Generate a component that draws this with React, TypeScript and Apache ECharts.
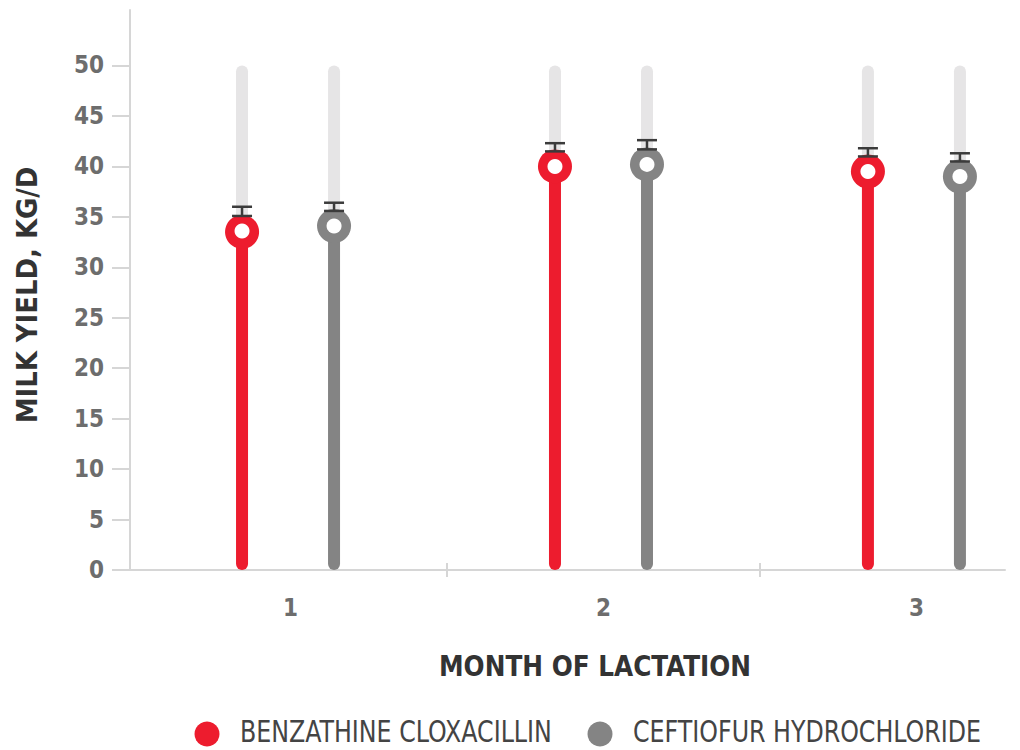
import React, { useEffect, useRef } from "react";
import * as echarts from "echarts";

const categories = ["1", "2", "3"];
const categoryPositions = [1, 2, 3];
const seriesNames = ["BENZATHINE CLOXACILLIN", "CEFTIOFUR HYDROCHLORIDE"];
const benzMean = [33.6, 40.0, 39.5];
const benzUpper = [36.0, 42.3, 41.8];
const ceftMean = [34.1, 40.2, 39.0];
const ceftUpper = [36.4, 42.6, 41.3];
const yTickValues = [0, 5, 10, 15, 20, 25, 30, 35, 40, 45, 50];
const xBoundaryTicks = [1.5, 2.5];
const trackTop = 50;

const FONT = "'Liberation Sans Narrow', 'DejaVu Sans Condensed', 'Roboto', sans-serif";
const RED = "#ed1c2e";
const GRAY = "#848484";
const AXIS = "#d6d6d6";
const X_MIN = 0.487;
const X_MAX = 3.283;

export default function App() {
  const ref = useRef<HTMLDivElement>(null);
  useEffect(() => {
    document.body.style.margin = "0";
    const chart = echarts.init(ref.current!, null, { renderer: "svg" });
    const offsets = [-0.155, 0.139];
    const colors = [RED, GRAY];
    const build = (means: number[], uppers: number[], off: number) =>
      categoryPositions.map((c, i) => [c + off, means[i], uppers[i]]);

    const renderItem = (params: any, api: any) => {
      const x = api.value(0);
      const v = api.value(1);
      const up = api.value(2);
      const p0 = api.coord([x, 0]);
      const pv = api.coord([x, v]);
      const pt = api.coord([x, trackTop]);
      const pu = api.coord([x, up]);
      const color = api.visual("color");
      const lowCap = pv[1] - 15;
      const ebColor = "#3b3b3b";
      return {
        type: "group",
        children: [
          { type: "line", shape: { x1: pv[0], y1: pt[1] + 6, x2: pv[0], y2: pv[1] }, style: { stroke: "#e6e5e6", lineWidth: 12, lineCap: "round" } },
          { type: "line", shape: { x1: pv[0], y1: p0[1] - 6, x2: pv[0], y2: pv[1] }, style: { stroke: color, lineWidth: 12, lineCap: "round" } },
          { type: "circle", shape: { cx: pv[0], cy: pv[1], r: 17 }, style: { fill: color } },
          { type: "circle", shape: { cx: pv[0], cy: pv[1], r: 7.5 }, style: { fill: "#ffffff" } },
          { type: "line", shape: { x1: pv[0], y1: pu[1], x2: pv[0], y2: lowCap }, style: { stroke: ebColor, lineWidth: 2.5 } },
          { type: "line", shape: { x1: pv[0] - 10, y1: pu[1], x2: pv[0] + 10, y2: pu[1] }, style: { stroke: ebColor, lineWidth: 2.5 } },
          { type: "line", shape: { x1: pv[0] - 10, y1: lowCap, x2: pv[0] + 10, y2: lowCap }, style: { stroke: ebColor, lineWidth: 2.5 } },
        ],
      };
    };

    const legendX = [207, 600];
    const legendGraphics: any[] = [];
    seriesNames.forEach((name, i) => {
      legendGraphics.push({
        type: "circle",
        shape: { cx: legendX[i], cy: 734, r: 12.5 },
        style: { fill: colors[i] },
      });
      legendGraphics.push({
        type: "text",
        x: legendX[i] + 33,
        y: 732,
        scaleX: 0.88,
        style: {
          text: name,
          fontFamily: FONT,
          fontSize: 30,
          fill: "#444444",
          textAlign: "left",
          textVerticalAlign: "middle",
        },
      });
    });

    chart.setOption({
      animation: false,
      grid: { left: 130, right: 15, top: 10, bottom: 180, containLabel: false },
      xAxis: [
        {
          type: "value",
          min: X_MIN,
          max: X_MAX,
          axisLine: { show: true, lineStyle: { color: AXIS, width: 2 } },
          axisTick: { show: true, length: 7, customValues: xBoundaryTicks, lineStyle: { color: AXIS, width: 2 } },
          axisLabel: {
            customValues: categoryPositions,
            formatter: (v: number) => categories[Math.round(v) - 1] ?? "",
            fontFamily: FONT,
            fontSize: 24,
            fontWeight: "bold",
            color: "#6d6d6d",
            margin: 26,
          },
          splitLine: { show: false },
        },
        {
          type: "value",
          min: X_MIN,
          max: X_MAX,
          position: "bottom",
          axisLine: { show: false },
          axisTick: { show: true, inside: true, length: 7, customValues: xBoundaryTicks, lineStyle: { color: AXIS, width: 2 } },
          axisLabel: { show: false },
          splitLine: { show: false },
        },
      ],
      yAxis: {
        type: "value",
        min: 0,
        max: 55.5,
        axisLine: { show: true, lineStyle: { color: AXIS, width: 2 } },
        axisTick: { show: true, length: 18, customValues: yTickValues, lineStyle: { color: AXIS, width: 2 } },
        axisLabel: {
          customValues: yTickValues,
          fontFamily: FONT,
          fontSize: 24,
          fontWeight: "bold",
          color: "#6d6d6d",
          margin: 26,
        },
        splitLine: { show: false },
      },
      graphic: [
        {
          type: "text",
          x: 28,
          y: 295,
          rotation: Math.PI / 2,
          scaleX: 1.03,
          style: {
            text: "MILK YIELD, KG/D",
            fontFamily: FONT,
            fontSize: 28,
            fontWeight: "bold",
            fill: "#333333",
            textAlign: "center",
            textVerticalAlign: "middle",
          },
        },
        {
          type: "text",
          x: 595,
          y: 666,
          scaleX: 0.95,
          style: {
            text: "MONTH OF LACTATION",
            fontFamily: FONT,
            fontSize: 29,
            fontWeight: "bold",
            fill: "#333333",
            textAlign: "center",
            textVerticalAlign: "middle",
          },
        },
        ...legendGraphics,
      ],
      series: [
        {
          name: seriesNames[0],
          type: "custom",
          itemStyle: { color: RED },
          renderItem,
          encode: { x: 0, y: 1 },
          data: build(benzMean, benzUpper, offsets[0]),
        },
        {
          name: seriesNames[1],
          type: "custom",
          itemStyle: { color: GRAY },
          renderItem,
          encode: { x: 0, y: 1 },
          data: build(ceftMean, ceftUpper, offsets[1]),
        },
      ],
    });
    return () => chart.dispose();
  }, []);
  return <div ref={ref} style={{ position: "absolute", left: 0, top: 0, width: 1020, height: 750 }} />;
}
